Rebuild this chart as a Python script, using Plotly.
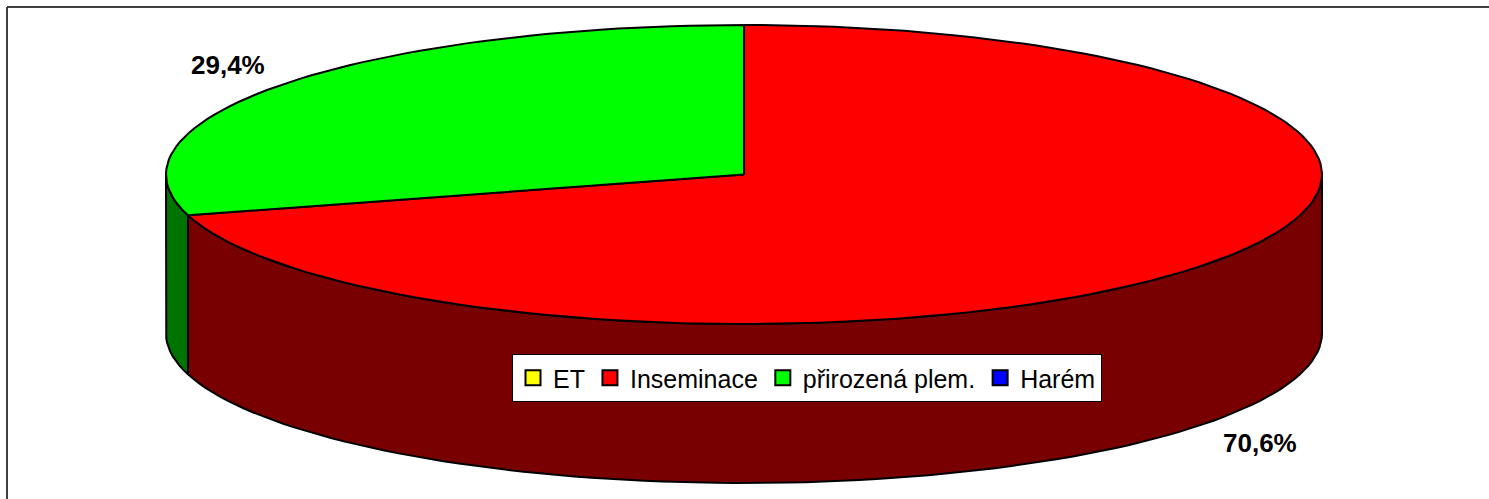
import math
import plotly.graph_objects as go

# ---- data ----
categories = ["ET", "Inseminace", "přirozená plem.", "Harém"]
shares = [0.0, 70.6, 29.4, 0.0]
top_colors = ["#ffff00", "#ff0000", "#00ff00", "#0000ff"]
side_colors = ["#808000", "#780000", "#007300", "#000080"]

# ---- geometry (pixels) ----
W, H = 1489, 499
cx, cy = 744.0, 174.5
rx, ry = 578.0, 149.5
depth = 159.0
FONT = "Liberation Sans, Arial, sans-serif"


def pt(theta_deg, dy=0.0):
    t = math.radians(theta_deg)
    return cx + rx * math.sin(t), cy - ry * math.cos(t) + dy


def arc(a, b, dy=0.0, n=200):
    xs, ys = [], []
    steps = max(2, int(n * abs(b - a) / 360) + 2)
    for i in range(steps):
        th = a + (b - a) * i / (steps - 1)
        x, y = pt(th, dy)
        xs.append(x)
        ys.append(y)
    return xs, ys


total = sum(shares)
slices = []
start = 0.0
for cat, v, ct, cs in zip(categories, shares, top_colors, side_colors):
    span = 360.0 * v / total
    slices.append((cat, v, start, start + span, ct, cs))
    start += span

fig = go.Figure()

# side walls (front half: 90..270 deg clockwise from top)
for cat, v, a1, a2, ct, cs in slices:
    if v <= 0:
        continue
    lo, hi = max(a1, 90.0), min(a2, 270.0)
    if hi <= lo:
        continue
    tx, ty = arc(lo, hi)
    bx, by = arc(hi, lo, depth)
    fig.add_trace(go.Scatter(
        x=tx + bx + [tx[0]], y=ty + by + [ty[0]],
        mode="lines", fill="toself", fillcolor=cs,
        line=dict(color="black", width=2),
        showlegend=False, hoverinfo="skip"))

# top faces
for cat, v, a1, a2, ct, cs in slices:
    if v <= 0:
        continue
    ax_, ay_ = arc(a1, a2)
    fig.add_trace(go.Scatter(
        x=[cx] + ax_ + [cx], y=[cy] + ay_ + [cy],
        mode="lines", fill="toself", fillcolor=ct,
        line=dict(color="black", width=2),
        showlegend=False, hoverinfo="text",
        text=f"{cat}: {v:.1f}%"))

# data labels
for cat, v, a1, a2, ct, cs in slices:
    if v <= 0:
        continue
    mid = math.radians((a1 + a2) / 2)
    lx = cx + rx * 1.12 * math.sin(mid)
    ly = cy - ry * 1.22 * math.cos(mid) + (depth if math.cos(mid) < 0 else 0)
    fig.add_annotation(
        x=lx, y=ly, text="<b>" + f"{v:.1f}".replace(".", ",") + "%</b>",
        showarrow=False, font=dict(family=FONT, size=26, color="black"),
        xanchor="center", yanchor="middle")

# legend entries
for cat, ct in zip(categories, top_colors):
    fig.add_trace(go.Scatter(
        x=[None], y=[None], mode="markers", name=cat,
        marker=dict(symbol="square", size=15, color=ct,
                    line=dict(color="black", width=2))))

# chart-area border (top and left edges visible)
fig.add_shape(type="line", x0=7, y0=7, x1=W, y1=7,
              line=dict(color="#404040", width=2))
fig.add_shape(type="line", x0=7, y0=7, x1=7, y1=H,
              line=dict(color="#404040", width=2))

fig.update_layout(
    width=W, height=H, autosize=False,
    margin=dict(l=0, r=0, t=0, b=0),
    paper_bgcolor="white", plot_bgcolor="white",
    xaxis=dict(range=[0, W], visible=False, fixedrange=True),
    yaxis=dict(range=[H, 0], visible=False, fixedrange=True),
    showlegend=True,
    legend=dict(
        orientation="h", x=807 / W, y=1 - 378 / H,
        xanchor="center", yanchor="middle",
        bgcolor="white", bordercolor="black", borderwidth=1,
        font=dict(family=FONT, size=25, color="black"),
        itemclick=False, itemdoubleclick=False,
    ),
)

fig.write_html(
    "out.html",
    config={"displayModeBar": False},
    post_script="document.body.style.margin='0';document.body.style.overflow='hidden';",
)
